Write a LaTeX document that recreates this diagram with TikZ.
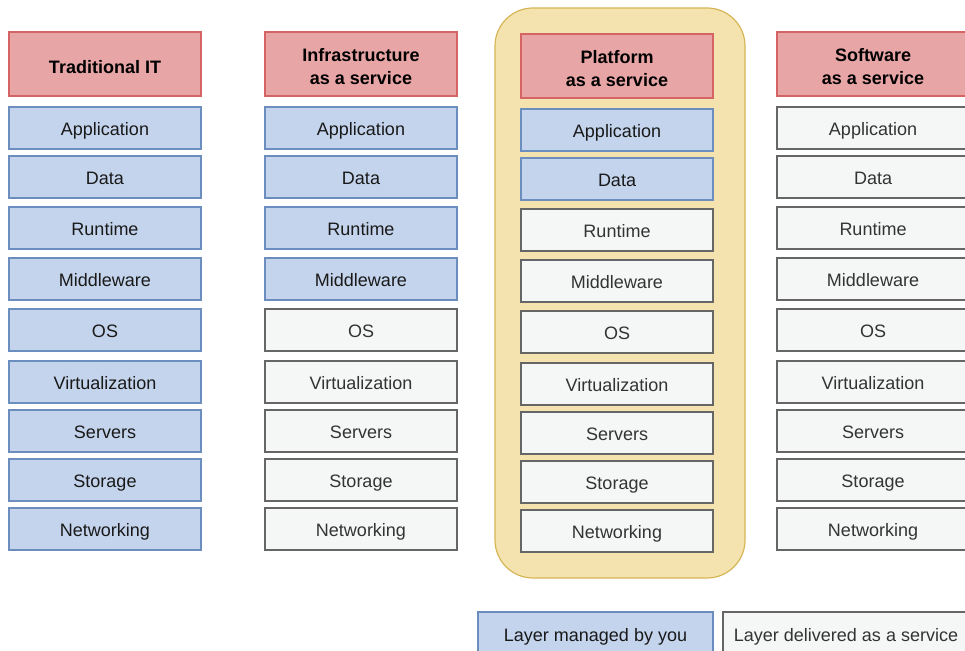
\documentclass[tikz,border=0pt]{standalone}
\usepackage{fontspec}
\setmainfont{Liberation Sans}
\definecolor{hdrfill}{RGB}{232,165,165}
\definecolor{hdrdraw}{RGB}{214,100,100}
\definecolor{youfill}{RGB}{196,212,236}
\definecolor{youdraw}{RGB}{108,142,191}
\definecolor{svcfill}{RGB}{245,246,246}
\definecolor{svcdraw}{RGB}{102,102,102}
\definecolor{svctext}{RGB}{51,51,51}
\definecolor{yelfill}{RGB}{245,227,175}
\definecolor{yeldraw}{RGB}{214,182,86}
\tikzset{
  base/.style={draw, line width=1.2pt, minimum width=192pt, minimum height=42pt,
    inner sep=0pt, font=\fontsize{18}{23}\selectfont, text height=14.6pt, text depth=0pt},
  hdr/.style={base, fill=hdrfill, draw=hdrdraw, minimum height=64pt, font=\fontsize{18}{23}\selectfont\bfseries, text=black, text height=19.5pt},
  hdrtext/.style={font=\fontsize{18}{23}\selectfont\bfseries, align=center, text=black, inner sep=0pt, yshift=-2.5pt},
  you/.style={base, fill=youfill, draw=youdraw, text=black!90},
  svc/.style={base, fill=svcfill, draw=svcdraw, text=svctext},
}
\begin{document}
\begin{tikzpicture}[x=1pt,y=-1pt]
\clip (0,0) rectangle (965,650);
\fill[white] (0,0) rectangle (965,650);
% platform highlight
\draw[line width=1.2pt, fill=yelfill, draw=yeldraw, rounded corners=38pt] (495,8) rectangle (745,578);
% headers
\node[hdr] (t-hdr) at (105,64) {Traditional IT};
\node[hdr, label={[hdrtext]center:Infrastructure\\as a service}] (i-hdr) at (361,64) {};
\node[hdr, label={[hdrtext]center:Platform\\as a service}] (p-hdr) at (617,66) {};
\node[hdr, label={[hdrtext]center:Software\\as a service}] (s-hdr) at (873,64) {};
% rows
\foreach \nm/\txt/\y/\ti/\tp in {
  app/Application/128/you/you,
  data/Data/177/you/you,
  run/Runtime/228/you/svc,
  mid/Middleware/279/you/svc,
  os/OS/330/svc/svc,
  virt/Virtualization/382/svc/svc,
  srv/Servers/431/svc/svc,
  sto/Storage/480/svc/svc,
  net/Networking/529/svc/svc}{
  \node[you] (t-\nm) at (105,\y) {\txt};
  \node[\ti] (i-\nm) at (361,\y) {\txt};
  \node[\tp] (p-\nm) at (617,\y+2) {\txt};
  \node[svc] (s-\nm) at (873,\y) {\txt};
}
% legend
\node[you, minimum width=235pt, minimum height=45pt] (leg-you) at (595.5,634.5) {Layer managed by you};
\node[svc, minimum width=246pt, minimum height=45pt] (leg-svc) at (846,634.5) {Layer delivered as a service};
\end{tikzpicture}
\end{document}
